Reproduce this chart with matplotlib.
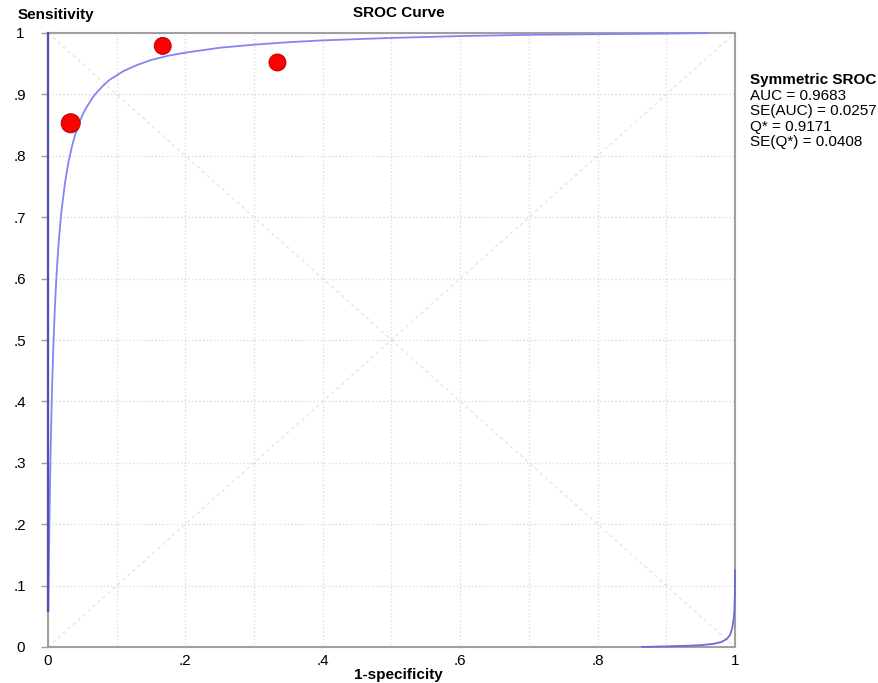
import numpy as np
import matplotlib
matplotlib.use("Agg")
import matplotlib.pyplot as plt

plt.rcParams['font.family'] = ['Liberation Sans', 'DejaVu Sans']

# Symmetric SROC curve
curve_fpr = [0.0005, 0.001, 0.0015, 0.002, 0.0025, 0.003, 0.004, 0.005, 0.006, 0.0075,
             0.01, 0.0125, 0.015, 0.0175, 0.02, 0.025, 0.03, 0.035, 0.04, 0.045,
             0.05, 0.055, 0.06, 0.065, 0.07, 0.075, 0.08, 0.09, 0.1, 0.11,
             0.12, 0.13, 0.15, 0.175, 0.2, 0.25, 0.3, 0.35, 0.4, 0.45,
             0.5, 0.6, 0.7, 0.8, 0.9, 0.96]
curve_sens = [0.058, 0.109, 0.155, 0.197, 0.235, 0.269, 0.329, 0.381, 0.425, 0.480,
              0.553, 0.608, 0.651, 0.685, 0.714, 0.758, 0.791, 0.816, 0.836, 0.852,
              0.866, 0.877, 0.886, 0.895, 0.902, 0.908, 0.914, 0.924, 0.931, 0.938,
              0.943, 0.948, 0.956, 0.963, 0.968, 0.976, 0.981, 0.985, 0.988, 0.990,
              0.992, 0.995, 0.997, 0.998, 0.999, 1.0]

# second branch in the bottom right corner
tail_fpr = [0.865, 0.9, 0.93, 0.95, 0.968, 0.98, 0.988, 0.993, 0.996, 0.998, 0.999, 1.0, 1.0]
tail_sens = [0.0, 0.001, 0.002, 0.003, 0.005, 0.008, 0.013, 0.02, 0.031, 0.045, 0.057, 0.09, 0.125]

# studies
study_fpr = [0.033, 0.167, 0.334]
study_sens = [0.853, 0.979, 0.952]
study_size = [190, 150, 150]

x_ticks = [0, .1, .2, .3, .4, .5, .6, .7, .8, .9, 1]
x_labels = ['0', '', '.2', '', '.4', '', '.6', '', '.8', '', '1']
y_ticks = [0, .1, .2, .3, .4, .5, .6, .7, .8, .9, 1]
y_labels = ['0', '.1', '.2', '.3', '.4', '.5', '.6', '.7', '.8', '.9', '1']

stats_title = 'Symmetric SROC'
stats_lines = ['AUC = 0.9683', 'SE(AUC) = 0.0257', 'Q* = 0.9171', 'SE(Q*) = 0.0408']

W, H = 879, 683
fig = plt.figure(figsize=(W / 100, H / 100), dpi=100)
ax = fig.add_axes([48 / W, 36 / H, 687 / W, 614 / H])

ax.set_xlim(0, 1)
ax.set_ylim(0, 1)
ax.set_xticks(x_ticks, x_labels)
ax.set_yticks(y_ticks, y_labels)
ax.grid(True, color='#dcdcdc', linestyle=':', linewidth=1.0)
ax.set_axisbelow(True)

# diagonals
ax.plot([0, 1], [0, 1], color='#e0e0e0', lw=0.8, dashes=(3, 3), zorder=1)
ax.plot([0, 1], [1, 0], color='#e0e0e0', lw=0.8, dashes=(3, 3), zorder=1)

ax.plot(curve_fpr, curve_sens, color='#8585f2', lw=1.3, zorder=3, clip_on=False)
ax.plot(tail_fpr, tail_sens, color='#6a6ad8', lw=1.3, zorder=3, clip_on=False)
# dark blue along the left edge
ax.plot([0, 0], [0.058, 1], color='#4f4fb0', lw=1.6, zorder=4, clip_on=False)

ax.scatter(study_fpr, study_sens, s=study_size, c='#ff0000', edgecolors='#a00000',
           linewidths=0.6, zorder=5, clip_on=False)

for s in ax.spines.values():
    s.set_color('#a0a0a0')
    s.set_linewidth(1.5)

ax.tick_params(axis='y', length=5, width=1, color='#a0a0a0', pad=15, labelsize=11)
for lab in ax.get_yticklabels():
    lab.set_horizontalalignment('center')
ax.tick_params(axis='x', length=0, pad=5, labelsize=11)

fig.text(18 / W, 1 - 15 / H, 'Sensitivity', fontsize=11, fontweight='bold', va='center')
fig.text(399 / W, 1 - 13 / H, 'SROC Curve', fontsize=11, fontweight='bold',
         ha='center', va='center')
fig.text(398 / W, 1 - 675 / H, '1-specificity', fontsize=11, fontweight='bold',
         ha='center', va='center')

fig.text(750 / W, 1 - 80 / H, stats_title, fontsize=11, fontweight='bold', va='center')
for i, line in enumerate(stats_lines):
    fig.text(750 / W, 1 - (95.5 + 15.5 * i) / H, line, fontsize=11, va='center')

fig.savefig('out.png', dpi=100)
